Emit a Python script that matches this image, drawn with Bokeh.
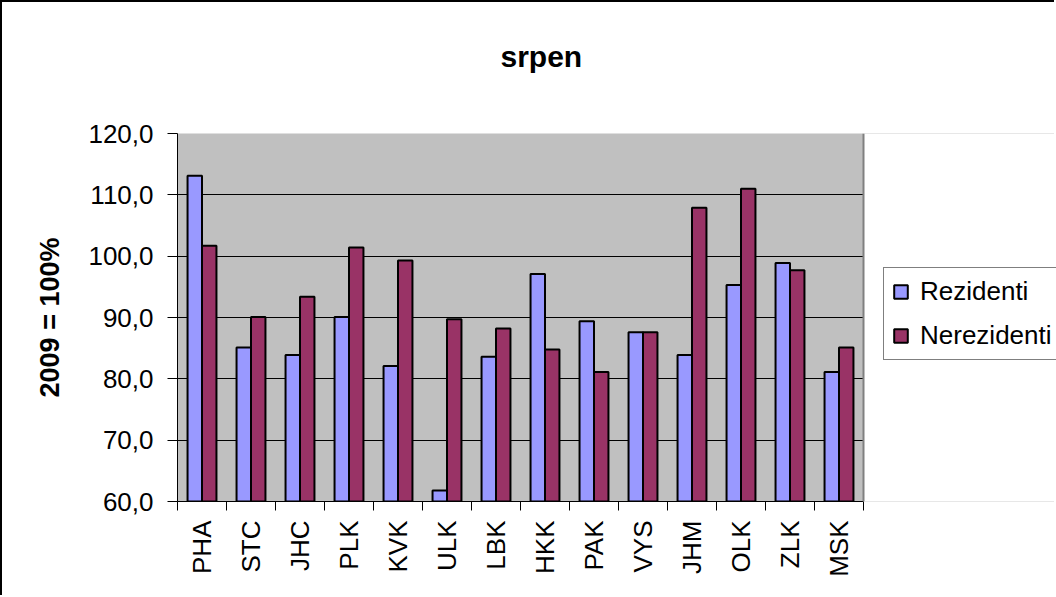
import math
from bokeh.plotting import figure
from bokeh.models import (ColumnDataSource, Range1d, LinearAxis, FixedTicker, Title,
                          Legend, LegendItem, BoxAnnotation, Span, Grid)
from bokeh.transform import dodge
from bokeh.embed import file_html
from bokeh.resources import INLINE

categories = ["PHA", "STC", "JHC", "PLK", "KVK", "ULK", "LBK", "HKK", "PAK", "VYS", "JHM", "OLK", "ZLK", "MSK"]
rezidenti = [113.1, 85.1, 83.9, 90.1, 82.1, 61.8, 83.6, 97.1, 89.4, 87.6, 83.9, 95.3, 98.9, 81.1]
nerezidenti = [101.7, 90.1, 93.4, 101.4, 99.3, 89.7, 88.2, 84.8, 81.1, 87.6, 107.9, 111.0, 97.7, 85.1]
y_ticks = [60, 70, 80, 90, 100, 110, 120]
y_tick_labels = ["60,0", "70,0", "80,0", "90,0", "100,0", "110,0", "120,0"]
series_names = ["Rezidenti", "Nerezidenti"]
title_text = "srpen"
y_label = "2009 = 100%"

FONT = "Liberation Sans"
n = len(categories)
slot_centers = [i + 0.5 for i in range(n)]
slot_edges = list(range(n + 1))

# layout constants (pixels): plot area 686 px wide inside a 879 px frame that also holds the legend
PLOT_W, FRAME_W = 686, 879

source = ColumnDataSource(dict(x=slot_centers, cat=categories, rez=rezidenti, nerez=nerezidenti))

p = figure(x_range=Range1d(0, n * FRAME_W / PLOT_W), y_range=Range1d(y_ticks[0], y_ticks[-1]),
           width=1054, height=595, output_backend="svg", toolbar_location=None,
           x_axis_location=None, title=None,
           min_border_left=175, min_border_right=0, min_border_top=131, min_border_bottom=96)

p.styles = {"border-left": "2px solid black", "border-top": "2px solid black"}

p.background_fill_color = "#C0C0C0"
p.border_fill_color = "white"
p.outline_line_color = None

# spacer between plot area and title, then the title itself
spacer = Title(text=" ", text_font=FONT, text_font_size="1px", standoff=53)
p.add_layout(spacer, "above")
t = Title(text=title_text, align="left", offset=323, standoff=10,
          text_font=FONT, text_font_size="30px", text_font_style="bold", text_color="black")
p.add_layout(t, "above")

# y axis
ya = p.yaxis[0]
ya.ticker = FixedTicker(ticks=y_ticks)
ya.major_label_overrides = {v: s for v, s in zip(y_ticks, y_tick_labels)}
ya.major_label_text_font = FONT
ya.major_label_text_font_size = "26px"
ya.major_label_text_color = "black"
ya.major_label_standoff = 14
ya.major_tick_out = 10
ya.major_tick_in = 0
ya.minor_tick_line_color = None
ya.axis_line_color = "black"
ya.major_tick_line_color = "black"
ya.axis_label = y_label
ya.axis_label_text_font = FONT
ya.axis_label_text_font_size = "27px"
ya.axis_label_text_font_style = "bold"
ya.axis_label_text_color = "black"
ya.axis_label_standoff = 20

p.ygrid.ticker = FixedTicker(ticks=y_ticks[1:-1])
p.ygrid.grid_line_color = "black"
p.ygrid.grid_line_width = 1
p.ygrid.bounds = (0, n)
p.xgrid.visible = False

# grey top border of the plot area
top_edge = Grid(dimension=1, ticker=FixedTicker(ticks=[y_ticks[-1]]), bounds=(0, n),
                grid_line_color="#808080", grid_line_width=2)
p.add_layout(top_edge, "center")

# category axis: labels at slot centres, tick marks between categories
cat_axis = LinearAxis(ticker=FixedTicker(ticks=slot_centers, minor_ticks=slot_edges),
                      bounds=(0, n),
                      major_label_overrides={c: s for c, s in zip(slot_centers, categories)},
                      major_tick_line_color=None, major_tick_out=9, major_tick_in=0,
                      minor_tick_line_color="black", minor_tick_out=9, minor_tick_in=0,
                      axis_line_color="black",
                      major_label_orientation=math.pi / 2,
                      major_label_text_font=FONT, major_label_text_font_size="26px",
                      major_label_text_color="black", major_label_standoff=10)
p.add_layout(cat_axis, "below")

bw = 0.295
r1 = p.vbar(x=dodge("x", -bw / 2), top="rez", bottom=y_ticks[0], width=bw,
            source=source, fill_color="#9999FF", line_color="black", line_width=2)
r2 = p.vbar(x=dodge("x", bw / 2), top="nerez", bottom=y_ticks[0], width=bw,
            source=source, fill_color="#993366", line_color="black", line_width=2)

# white area to the right of the plot area (holds the legend)
right_area = BoxAnnotation(left=n, fill_color="white", fill_alpha=1, line_color=None)
p.add_layout(right_area)
right_edge = Span(location=n, dimension="height", line_color="#808080", line_width=2)
p.add_layout(right_edge)

lg = Legend(items=[LegendItem(label=series_names[0], renderers=[r1]),
                   LegendItem(label=series_names[1], renderers=[r2])],
            location=(706, 141), margin=0, padding=8, spacing=13,
            glyph_width=17, glyph_height=17, label_standoff=11,
            label_text_font=FONT, label_text_font_size="26px", label_text_color="black",
            border_line_color="black", border_line_width=1,
            background_fill_color="white", background_fill_alpha=1)
p.add_layout(lg, "center")

open("out.html", "w").write(file_html(p, INLINE))
